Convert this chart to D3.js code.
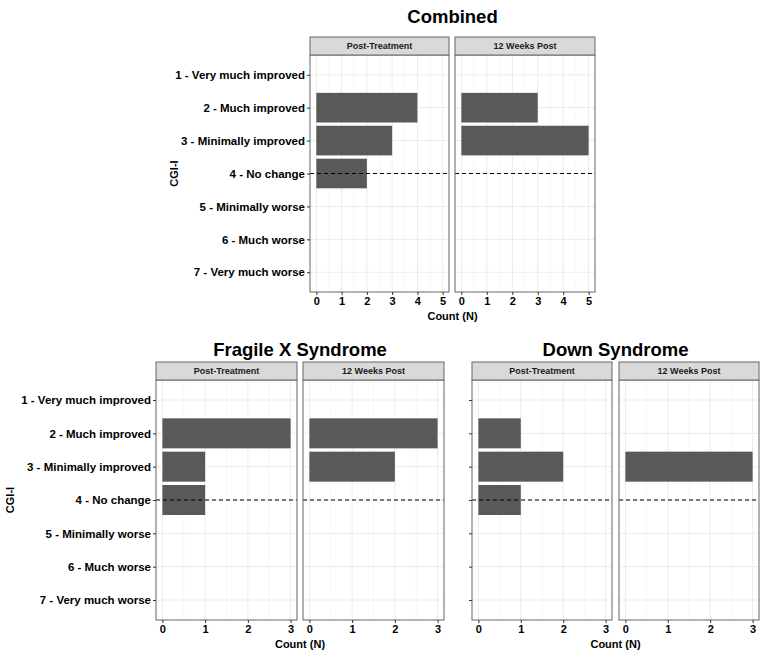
<!DOCTYPE html>
<html>
<head>
<meta charset="utf-8">
<script src="https://cdn.jsdelivr.net/npm/d3@7"></script>
<style>
  body { margin: 0; background: #fff; }
  svg { display: block; font-family: "Liberation Sans", Arial, sans-serif; }
</style>
</head>
<body>
<svg id="chart" width="770" height="657"></svg>
<script>
// ---------------- DATA ----------------
const categories = [
  "1 - Very much improved",
  "2 - Much improved",
  "3 - Minimally improved",
  "4 - No change",
  "5 - Minimally worse",
  "6 - Much worse",
  "7 - Very much worse"
];
const timepoints = ["Post-Treatment", "12 Weeks Post"];
const referenceCategory = "4 - No change";

const combinedPost = [0, 4, 3, 2, 0, 0, 0];
const combinedWk12 = [0, 3, 5, 0, 0, 0, 0];
const fragileXPost = [0, 3, 1, 1, 0, 0, 0];
const fragileXWk12 = [0, 3, 2, 0, 0, 0, 0];
const downPost     = [0, 1, 2, 1, 0, 0, 0];
const downWk12     = [0, 0, 3, 0, 0, 0, 0];

const combinedTicks = [0, 1, 2, 3, 4, 5];
const subgroupTicks = [0, 1, 2, 3];

const yTitle = "CGI-I";
const xTitle = "Count (N)";

// ---------------- DRAWING ----------------
const svg = d3.select("#chart");
const BAR = "#595959", GRID = "#EBEBEB", GRIDMINOR = "#F5F5F5", BORDER = "#666666", STRIP = "#D9D9D9";

function drawPlot(cfg) {
  const g = svg.append("g");
  const y = d3.scalePoint().domain(categories).range([cfg.panelTop, cfg.panelBottom]).padding(0.6);
  const bh = y.step() * 0.9;
  const xMax = d3.max(cfg.ticks);

  cfg.panels.forEach((p, i) => {
    const x = d3.scaleLinear().domain([-0.05 * xMax, 1.05 * xMax]).range([p[0], p[1]]);
    const series = cfg.series[i];
    const pg = g.append("g");
    // minor grid
    const minors = d3.range(0.5, xMax, 1);
    pg.selectAll(".minor").data(minors).join("line")
      .attr("x1", d => x(d)).attr("x2", d => x(d))
      .attr("y1", cfg.panelTop).attr("y2", cfg.panelBottom)
      .attr("stroke", GRIDMINOR).attr("stroke-width", 0.8);
    // major grid vertical
    pg.selectAll(".vmaj").data(cfg.ticks).join("line")
      .attr("x1", d => x(d)).attr("x2", d => x(d))
      .attr("y1", cfg.panelTop).attr("y2", cfg.panelBottom)
      .attr("stroke", GRID).attr("stroke-width", 1);
    // major grid horizontal
    pg.selectAll(".hmaj").data(categories).join("line")
      .attr("x1", p[0]).attr("x2", p[1])
      .attr("y1", d => y(d)).attr("y2", d => y(d))
      .attr("stroke", GRID).attr("stroke-width", 1);
    // bars
    pg.selectAll(".bar").data(categories.map((c, k) => ({ c, v: series[k] })).filter(d => d.v > 0))
      .join("rect")
      .attr("x", x(0)).attr("width", d => x(d.v) - x(0))
      .attr("y", d => y(d.c) - bh / 2).attr("height", bh)
      .attr("fill", BAR);
    // reference dashed line
    pg.append("line")
      .attr("x1", p[0]).attr("x2", p[1])
      .attr("y1", y(referenceCategory)).attr("y2", y(referenceCategory))
      .attr("stroke", "#000").attr("stroke-width", 1.2).attr("stroke-dasharray", "4,3");
    // border
    pg.append("rect")
      .attr("x", p[0]).attr("y", cfg.panelTop)
      .attr("width", p[1] - p[0]).attr("height", cfg.panelBottom - cfg.panelTop)
      .attr("fill", "none").attr("stroke", BORDER).attr("stroke-width", 1);
    // strip
    pg.append("rect")
      .attr("x", p[0]).attr("y", cfg.stripTop)
      .attr("width", p[1] - p[0]).attr("height", cfg.panelTop - cfg.stripTop)
      .attr("fill", STRIP).attr("stroke", BORDER).attr("stroke-width", 1);
    pg.append("text")
      .attr("x", (p[0] + p[1]) / 2).attr("y", (cfg.stripTop + cfg.panelTop) / 2 + 3.2)
      .attr("text-anchor", "middle").attr("font-size", "9px").attr("font-weight", "bold")
      .attr("fill", "#1A1A1A").text(timepoints[i]);
    // x axis
    const ax = d3.axisBottom(x).tickValues(cfg.ticks).tickSize(3).tickPadding(2).tickFormat(d3.format("d"));
    const axg = pg.append("g").attr("transform", `translate(0,${cfg.panelBottom})`).call(ax);
    axg.select(".domain").remove();
    axg.selectAll(".tick line").attr("stroke", "#333");
    axg.selectAll(".tick text").attr("font-size", "11px").attr("font-weight", "bold")
      .attr("fill", "#000").attr("font-family", "Liberation Sans, Arial, sans-serif");
  });

  // y axis
  const ay = d3.axisLeft(y).tickSize(3).tickPadding(2);
  if (!cfg.showYLabels) ay.tickFormat("");
  const ayg = g.append("g").attr("transform", `translate(${cfg.panels[0][0]},0)`).call(ay);
  ayg.select(".domain").remove();
  ayg.selectAll(".tick line").attr("stroke", "#333");
  ayg.selectAll(".tick text").attr("font-size", "11.5px").attr("font-weight", "bold")
    .attr("fill", "#000").attr("font-family", "Liberation Sans, Arial, sans-serif");

  const cx = (cfg.panels[0][0] + cfg.panels[cfg.panels.length - 1][1]) / 2;
  // title
  g.append("text").attr("x", cx).attr("y", cfg.titleY)
    .attr("text-anchor", "middle").attr("font-size", "18.5px").attr("font-weight", "bold")
    .attr("fill", "#000").text(cfg.title);
  // x title
  g.append("text").attr("x", cx).attr("y", cfg.xTitleY)
    .attr("text-anchor", "middle").attr("font-size", "11px").attr("font-weight", "bold")
    .attr("fill", "#000").text(xTitle);
  // y title
  if (cfg.yTitleX != null) {
    const cy = (cfg.panelTop + cfg.panelBottom) / 2;
    g.append("text").attr("transform", `translate(${cfg.yTitleX},${cy}) rotate(-90)`)
      .attr("text-anchor", "middle").attr("font-size", "11px").attr("font-weight", "bold")
      .attr("fill", "#000").text(yTitle);
  }
}

drawPlot({
  title: "Combined", titleY: 23,
  panels: [[310, 449], [455, 595]],
  stripTop: 37, panelTop: 55, panelBottom: 292,
  series: [combinedPost, combinedWk12], ticks: combinedTicks,
  showYLabels: true, yTitleX: 178, xTitleY: 320
});
drawPlot({
  title: "Fragile X Syndrome", titleY: 356,
  panels: [[156, 297], [303, 444]],
  stripTop: 362, panelTop: 380, panelBottom: 620,
  series: [fragileXPost, fragileXWk12], ticks: subgroupTicks,
  showYLabels: true, yTitleX: 14, xTitleY: 648
});
drawPlot({
  title: "Down Syndrome", titleY: 356,
  panels: [[472, 612], [619, 759]],
  stripTop: 362, panelTop: 380, panelBottom: 620,
  series: [downPost, downWk12], ticks: subgroupTicks,
  showYLabels: false, yTitleX: null, xTitleY: 648
});
</script>
</body>
</html>
